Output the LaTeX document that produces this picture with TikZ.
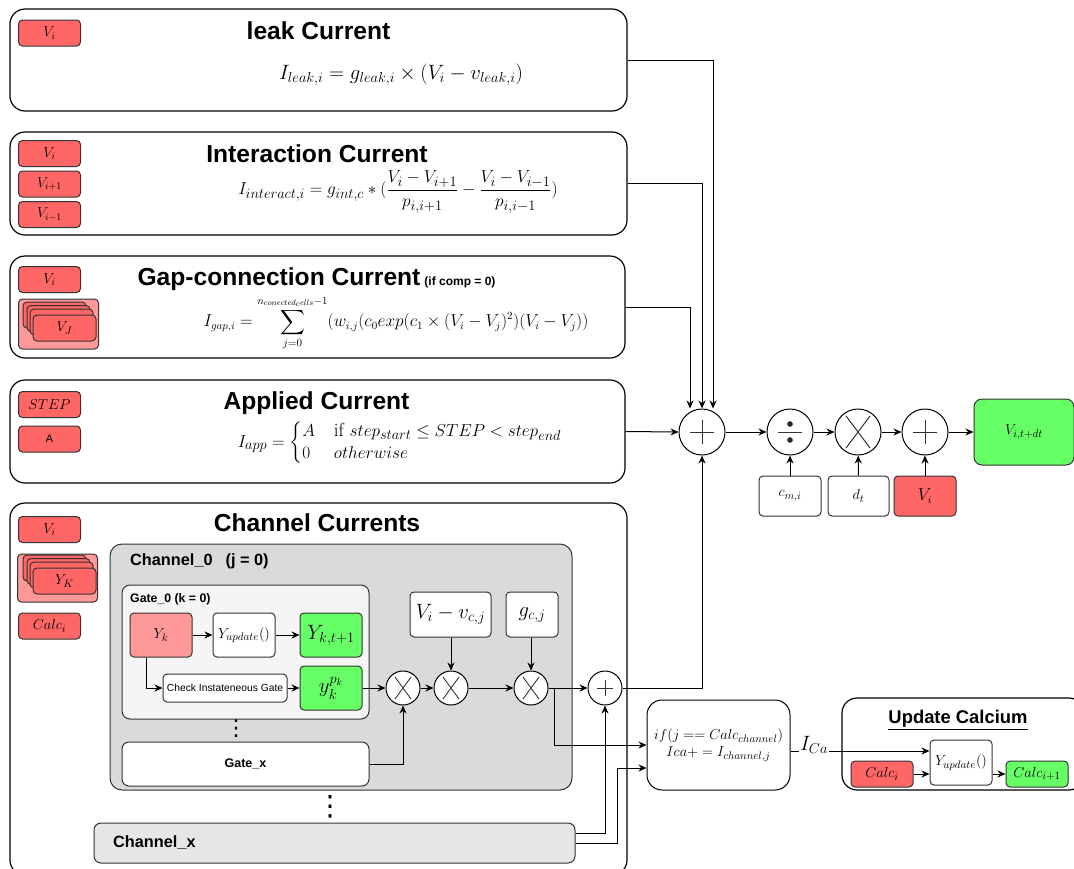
\documentclass[tikz,border=0pt]{standalone}
\usepackage{amsmath}
\usepackage[no-math]{fontspec}
\newfontfamily\hv{Liberation Sans}
\newfontfamily\dejavu{DejaVu Sans}
\usetikzlibrary{arrows.meta,calc}
\definecolor{redc}{HTML}{FF6666}
\definecolor{pinkc}{HTML}{FF9999}
\definecolor{greenc}{HTML}{66FF66}
\definecolor{greyc}{HTML}{DADADA}
\definecolor{gatec}{HTML}{F5F5F5}
\definecolor{chxc}{HTML}{E6E6E6}
\definecolor{edgec}{HTML}{333333}
\newcommand\fsz[1]{\fontsize{#1}{#1}\selectfont}
\tikzset{
  panel/.style={draw=black, line width=1.2pt, rounded corners=15pt, fill=white, inner sep=0pt},
  box/.style={draw=edgec, line width=1pt, rounded corners=4pt, inner sep=1pt, align=center},
  redbox/.style={box, fill=redc, minimum width=62pt, minimum height=26pt},
  wbox/.style={box, fill=white},
  gbox/.style={box, fill=greenc},
  ttl/.style={font=\hv\bfseries\fsz{24.6}, anchor=base, inner sep=0pt},
  fml/.style={inner sep=0pt},
  dotsstyle/.style={inner sep=0pt, font=\dejavu\fsz{#1}},
  link/.style={draw=black, line width=1pt, -{Stealth[length=8pt,width=7pt]}},
  opbig/.style={circle, draw=black, line width=1pt, fill=white, minimum size=46pt, inner sep=0pt},
  opsmall/.style={circle, draw=black, line width=1pt, fill=white, minimum size=34pt, inner sep=0pt},
  plusbig/.style={opbig, path picture={\draw[edgec, line width=1pt]
     ([xshift=-12pt]path picture bounding box.center) -- ([xshift=12pt]path picture bounding box.center)
     ([yshift=-12pt]path picture bounding box.center) -- ([yshift=12pt]path picture bounding box.center);}},
  plussmall/.style={opsmall, path picture={\draw[edgec, line width=0.9pt]
     ([xshift=-8pt]path picture bounding box.center) -- ([xshift=8pt]path picture bounding box.center)
     ([yshift=-8pt]path picture bounding box.center) -- ([yshift=8pt]path picture bounding box.center);}},
  mulbig/.style={opbig, path picture={\draw[edgec, line width=1pt]
     ([shift={(-12pt,-16pt)}]path picture bounding box.center) -- ([shift={(12pt,16pt)}]path picture bounding box.center)
     ([shift={(-12pt,16pt)}]path picture bounding box.center) -- ([shift={(12pt,-16pt)}]path picture bounding box.center);}},
  mulsmall/.style={opsmall, path picture={\draw[edgec, line width=0.9pt]
     ([shift={(-8pt,-11pt)}]path picture bounding box.center) -- ([shift={(8pt,11pt)}]path picture bounding box.center)
     ([shift={(-8pt,11pt)}]path picture bounding box.center) -- ([shift={(8pt,-11pt)}]path picture bounding box.center);}},
  divbig/.style={opbig, path picture={\draw[edgec, line width=1pt]
     ([xshift=-12pt]path picture bounding box.center) -- ([xshift=12pt]path picture bounding box.center);
     \fill[black!85] ([yshift=8pt]path picture bounding box.center) circle (2.8pt)
                     ([yshift=-8pt]path picture bounding box.center) circle (2.8pt);}},
}
\begin{document}
\begin{tikzpicture}[x=1pt,y=-1pt]
\useasboundingbox (0,0) rectangle (1074,868);
\clip (0,0) rectangle (1074,868);
\fill[white] (0,0) rectangle (1074,868);

% ---------- panels ----------
\node[panel, minimum width=617pt, minimum height=102pt] (leak) at (318.5,60) {};
\node[panel, minimum width=617pt, minimum height=103pt] (inter) at (318.5,183.5) {};
\node[panel, minimum width=615pt, minimum height=102pt] (gap) at (317.5,307) {};
\node[panel, minimum width=615pt, minimum height=103pt] (appl) at (317.5,431.5) {};
\node[panel, minimum width=617pt, minimum height=372pt] (chan) at (318.5,689) {};

% ---------- titles ----------
\node[ttl] (tleak) at (318.5,39) {leak Current};
\node[ttl] (tinter) at (317,162.5) {Interaction Current};
\node[ttl] (tgap) at (316.5,285) {Gap-connection Current\hspace{4pt}{\fsz{12}(if comp = 0)}};
\node[ttl] (tappl) at (316.5,409) {Applied Current};
\node[ttl] (tchan) at (317,531.5) {Channel Currents};

% ---------- formulas ----------
\node[fml, font=\fsz{19.4}] (fleak) at (401,75) {$I_{leak,i} = g_{leak,i} \times (V_i - v_{leak,i})$};
\node[fml, font=\fsz{19}] (finter) at (398,192) {$\displaystyle I_{interact,i} = g_{int,c} * (\frac{V_i - V_{i+1}}{p_{i,i+1}} - \frac{V_i - V_{i-1}}{p_{i,i-1}})$};
\node[fml, font=\fsz{16.3}] (fgap) at (396,323) {$\displaystyle I_{gap,i} = \sum_{j=0}^{n_{conected_{c}ells}-1} (w_{i,j}(c_0 exp(c_1 \times (V_i - V_j)^2)(V_i - V_j))$};
\node[fml, font=\fsz{19}] (fappl) at (400,443) {$I_{app} = \begin{cases} A & \text{if } step_{start} \le STEP < step_{end} \\ 0 & otherwise \end{cases}$};

% ---------- input boxes ----------
\node[redbox, font=\fsz{14.5}] (lvi) at (49.5,33) {$V_i$};
\node[redbox, font=\fsz{14.5}] (ivi) at (49.5,153.5) {$V_i$};
\node[redbox, font=\fsz{14.5}] (ivp) at (49.5,184) {$V_{i+1}$};
\node[redbox, font=\fsz{14.5}] (ivm) at (49.5,214.5) {$V_{i-1}$};
\node[redbox, font=\fsz{14.5}] (gvi) at (49.5,279.5) {$V_i$};
\node[box, fill=pinkc, minimum width=80pt, minimum height=50pt] (gstack) at (58.5,324) {};
\node[redbox, minimum width=63pt] (gs1) at (54.5,315) {};
\node[redbox, minimum width=63pt] (gs2) at (58.5,318.5) {};
\node[redbox, minimum width=63pt] (gs3) at (61.5,322) {};
\node[redbox, minimum width=63pt, font=\fsz{15}] (gs4) at (64.5,328) {$V_J$};
\node[redbox, font=\fsz{14.5}] (astep) at (49.5,404.5) {$STEP$};
\node[redbox, font=\hv\fsz{11}] (aa) at (49.5,439) {A};
\node[redbox, font=\fsz{14.5}] (cvi) at (49.5,529.5) {$V_i$};
\node[box, fill=pinkc, minimum width=80pt, minimum height=48pt] (cstack) at (57.5,578) {};
\node[redbox, minimum width=63pt] (cs1) at (54.5,568) {};
\node[redbox, minimum width=63pt] (cs2) at (58.5,571.5) {};
\node[redbox, minimum width=63pt] (cs3) at (61.5,575) {};
\node[redbox, minimum width=63pt, font=\fsz{15}] (cs4) at (64.5,581) {$Y_K$};
\node[redbox, font=\fsz{15}] (ccalc) at (49.5,626) {$Calc_i$};

% ---------- channel 0 ----------
\node[box, fill=greyc, rounded corners=12pt, minimum width=462pt, minimum height=246pt] (ch0) at (341,667) {};
\node[anchor=west, inner sep=0pt, font=\hv\bfseries\fsz{16.3}] (ch0l) at (130,561) {Channel\_0\hspace{13pt}(j = 0)};
\node[box, fill=gatec, rounded corners=8pt, minimum width=247pt, minimum height=134pt] (g0) at (245.5,652) {};
\node[anchor=west, inner sep=0pt, font=\hv\bfseries\fsz{12.3}] (g0l) at (130,599) {Gate\_0 (k = 0)};
\node[box, fill=pinkc, minimum width=62pt, minimum height=44pt, font=\fsz{15}] (yk) at (161,635) {$Y_k$};
\node[wbox, minimum width=62pt, minimum height=44pt, font=\fsz{15}] (yup) at (244,635) {$Y_{update}()$};
\node[gbox, minimum width=62pt, minimum height=44pt, font=\fsz{20}] (ykt) at (331,635) {$Y_{k,t+1}$};
\node[wbox, minimum width=124pt, minimum height=28pt, font=\hv\fsz{10.3}] (chk) at (225,688) {Check Instateneous Gate};
\node[gbox, minimum width=62pt, minimum height=44pt, font=\fsz{20}] (ypk) at (331,688) {$y_k^{p_k}$};
\node[dotsstyle=22] (dots1) at (236,729) {⋮};
\node[wbox, rounded corners=7pt, minimum width=247pt, minimum height=44pt, font=\hv\bfseries\fsz{12.5}] (gx) at (245.5,764) {Gate\_x};

\node[mulsmall] (X1) at (403,688) {};
\node[mulsmall] (X2) at (451,688) {};
\node[mulsmall] (X3) at (531,688) {};
\node[plussmall] (sm) at (605,688) {};
\node[wbox, minimum width=81pt, minimum height=45pt, font=\fsz{21.5}] (vv) at (450.5,614.5) {$V_i - v_{c,j}$};
\node[wbox, minimum width=52pt, minimum height=45pt, font=\fsz{21.5}] (gg) at (532,614.5) {$g_{c,j}$};

% ---------- channel x ----------
\node[dotsstyle=28] (dots2) at (330,807) {⋮};
\node[box, fill=chxc, rounded corners=7pt, minimum width=481pt, minimum height=40pt] (chx) at (334.5,843) {};
\node[anchor=west, inner sep=0pt, font=\hv\bfseries\fsz{16.3}] (chxl) at (113,843) {Channel\_x};

% ---------- calcium ----------
\node[box, draw=black, rounded corners=15pt, minimum width=143pt, minimum height=90pt, font=\fsz{15}] (ifb) at (718.5,745)
  {$if(j == Calc_{channel})$\\[2pt] $Ica+ = I_{channel,j}$};
\node[panel, minimum width=242pt, minimum height=92pt] (ucal) at (963,744) {};
\node[anchor=base, inner sep=0pt, font=\hv\bfseries\fsz{18.4}] (ucalt) at (958,723) {\underline{Update Calcium}};
\node[redbox, font=\fsz{15}] (calci) at (882,774) {$Calc_i$};
\node[wbox, minimum width=62pt, minimum height=45pt, font=\fsz{15}] (yup2) at (961,762.5) {$Y_{update}()$};
\node[gbox, minimum width=62pt, minimum height=26pt, font=\fsz{15}] (calc1) at (1037,774) {$Calc_{i+1}$};

% ---------- voltage update ----------
\node[plusbig] (P1) at (702,432) {};
\node[divbig] (dv) at (790,432) {};
\node[mulbig] (mu) at (858,432) {};
\node[plusbig] (P2) at (925,432) {};
\node[gbox, rounded corners=8pt, minimum width=100pt, minimum height=66pt, font=\fsz{15}] (vout) at (1024,432) {$V_{i,t+dt}$};
\node[wbox, minimum width=62pt, minimum height=40pt, font=\fsz{15}] (cm) at (790,496) {$c_{m,i}$};
\node[wbox, minimum width=61pt, minimum height=40pt, font=\fsz{15}] (dt) at (858.5,496) {$d_t$};
\node[redbox, minimum width=62pt, minimum height=40pt, font=\fsz{16}] (vi3) at (925,496) {$V_i$};

% ---------- connectors ----------
\draw[link] (leak.east) -| ([xshift=11pt]P1.north);
\draw[link] (inter.east) -| (P1.north);
\draw[link] (gap.east) -| ([xshift=-12pt]P1.north);
\draw[link] (appl.east) -- (P1.west);
\draw[link] (P1) -- (dv);
\draw[link] (dv) -- (mu);
\draw[link] (mu) -- (P2);
\draw[link] (P2) -- (vout);
\draw[link] (cm) -- (dv);
\draw[link] (dt) -- (mu);
\draw[link] (vi3) -- (P2);

\draw[link] (yk) -- (yup);
\draw[link] (yup) -- (ykt);
\draw[link] ([xshift=-15pt]yk.south) |- (chk.west);
\draw[link] (chk) -- (ypk);
\draw[link] (ypk) -- (X1);
\draw[link] (X1) -- (X2);
\draw[link] (X2) -- (X3);
\draw[link] (X3) -- (sm);
\draw[link] (vv.south -| X2.north) -- (X2.north);
\draw[link] (gg.south -| X3.north) -- (X3.north);
\draw[link] (gx.east) -| (X1.south);
\draw[link] (sm.east) -| (P1.south);
\coordinate (br) at (554,688);
\draw[link] (br) |- (ifb.west);
\draw[link] ([yshift=10pt]chx.east) -| (sm.south);
\coordinate (c2) at (617,768);
\draw[link] (chx.east) -| (c2) -- (c2 -| ifb.west);
\draw[link] ([yshift=-6pt]ifb.east) -- ([yshift=-6pt]ifb.east -| yup2.west);
\node[fill=white, inner sep=1pt, font=\fsz{20}] (ica) at (814,745) {$I_{Ca}$};
\draw[link] (calci) -- (calci -| yup2.west);
\draw[link] (yup2.east |- calci) -- (calc1.west);
\end{tikzpicture}
\end{document}
